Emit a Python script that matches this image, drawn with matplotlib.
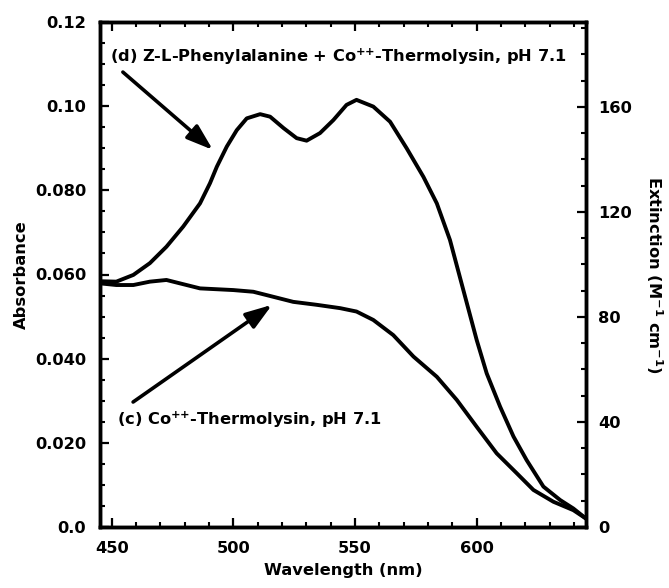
import numpy as np
import matplotlib
matplotlib.use('Agg')
import matplotlib.pyplot as plt
from matplotlib.ticker import MultipleLocator

plt.rcParams['font.family'] = ['DejaVu Sans']
plt.rcParams['font.weight'] = 'bold'
plt.rcParams['mathtext.default'] = 'bf'

# (d) Z-L-Phe + Co-thermolysin
wl_d = [445.2, 451.9, 458.9, 465.7, 472.5, 479.4, 486.3, 490.4, 493.2, 497.3, 501.4,
        505.5, 511.0, 515.1, 520.6, 526.0, 530.1, 535.6, 541.1, 546.5, 550.6, 557.5,
        564.4, 571.2, 578.1, 583.6, 589.0, 594.5, 600.0, 604.1, 609.6, 615.1, 620.5,
        627.4, 634.3, 639.7, 644.9]
abs_d = [0.0584, 0.0583, 0.0599, 0.0627, 0.0666, 0.0714, 0.0769, 0.0817, 0.0856, 0.0904,
         0.0943, 0.0971, 0.0981, 0.0975, 0.0948, 0.0924, 0.0918, 0.0936, 0.0967, 0.1003,
         0.1015, 0.0999, 0.0963, 0.0900, 0.0832, 0.0769, 0.0682, 0.0563, 0.0444, 0.0365,
         0.0286, 0.0215, 0.0159, 0.0096, 0.0064, 0.0044, 0.0020]

# (c) Co-thermolysin alone
wl_c = [445.2, 451.9, 458.9, 465.7, 472.5, 478.0, 486.3, 500.0, 508.2, 513.7, 524.6,
        534.2, 543.9, 550.6, 557.5, 565.7, 574.0, 583.6, 591.8, 600.0, 608.2, 616.4,
        623.3, 631.5, 639.7, 644.9]
abs_c = [0.0579, 0.0575, 0.0575, 0.0583, 0.0587, 0.0579, 0.0567, 0.0563, 0.0559, 0.0551,
         0.0535, 0.0528, 0.0520, 0.0512, 0.0492, 0.0456, 0.0405, 0.0357, 0.0302, 0.0238,
         0.0175, 0.0128, 0.0088, 0.0060, 0.0040, 0.0020]

y_ticks = [0.0, 0.02, 0.04, 0.06, 0.08, 0.10, 0.12]
y_ticklabels = ['0.0', '0.020', '0.040', '0.060', '0.080', '0.10', '0.12']
x_ticks = [450, 500, 550, 600]
ext_ticks = [0, 40, 80, 120, 160]

fs = 11.7
fig = plt.figure(figsize=(6.69, 5.88), dpi=100)
ax = fig.add_axes([100 / 669, 61 / 588, 486 / 669, 505 / 588])

ax.plot(wl_d, abs_d, color='black', lw=2.8, solid_joinstyle='round')
ax.plot(wl_c, abs_c, color='black', lw=2.8, solid_joinstyle='round')

ax.set_xlim(445.2, 644.9)
ax.set_ylim(0, 0.12)
ax.set_xticks(x_ticks)
ax.xaxis.set_minor_locator(MultipleLocator(10))
ax.set_yticks(y_ticks)
ax.set_yticklabels(y_ticklabels)
ax.yaxis.set_minor_locator(MultipleLocator(0.005))
ax.tick_params(axis='x', which='both', direction='in', top=True, labelsize=fs, pad=10)
ax.tick_params(axis='y', which='both', direction='in', labelsize=fs, pad=10)
ax.tick_params(which='major', length=6.5, width=1.6)
ax.tick_params(which='minor', length=3.6, width=1.5)
for s in ax.spines.values():
    s.set_linewidth(2.5)

ax.set_xlabel('Wavelength (nm)', fontsize=fs, fontweight='bold', labelpad=5)
ax.set_ylabel('Absorbance', fontsize=fs, fontweight='bold', labelpad=4)

ax2 = ax.twinx()
ax2.set_ylim(0, 0.12 * 1603)
ax2.set_yticks(ext_ticks)
ax2.yaxis.set_minor_locator(MultipleLocator(10))
ax2.tick_params(axis='y', which='both', direction='in', labelsize=fs, pad=8.5)
ax2.tick_params(which='major', length=6.5, width=1.6)
ax2.tick_params(which='minor', length=3.6, width=1.5)
for s in ax2.spines.values():
    s.set_linewidth(2.5)
ax2.set_ylabel('Extinction (M$^{-1}$ cm$^{-1}$)', fontsize=fs, fontweight='bold',
               rotation=270, labelpad=24)

arrow = dict(arrowstyle='-|>,head_length=1.0,head_width=0.34', color='black', lw=2.6,
             mutation_scale=16, shrinkA=0, shrinkB=0)
ax.text(449.2, 0.1117, '(d) Z-L-Phenylalanine + Co$^{{+}{+}}$-Thermolysin, pH 7.1',
        fontsize=fs, fontweight='bold', va='center', ha='left')
ax.annotate('', xy=(491.6, 0.0896), xytext=(454.6, 0.1081), arrowprops=arrow)
ax.text(452.2, 0.0254, '(c) Co$^{{+}{+}}$-Thermolysin, pH 7.1',
        fontsize=fs, fontweight='bold', va='center', ha='left')
ax.annotate('', xy=(515.9, 0.0528), xytext=(458.8, 0.0297), arrowprops=arrow)

fig.savefig('out.png', dpi=100)
